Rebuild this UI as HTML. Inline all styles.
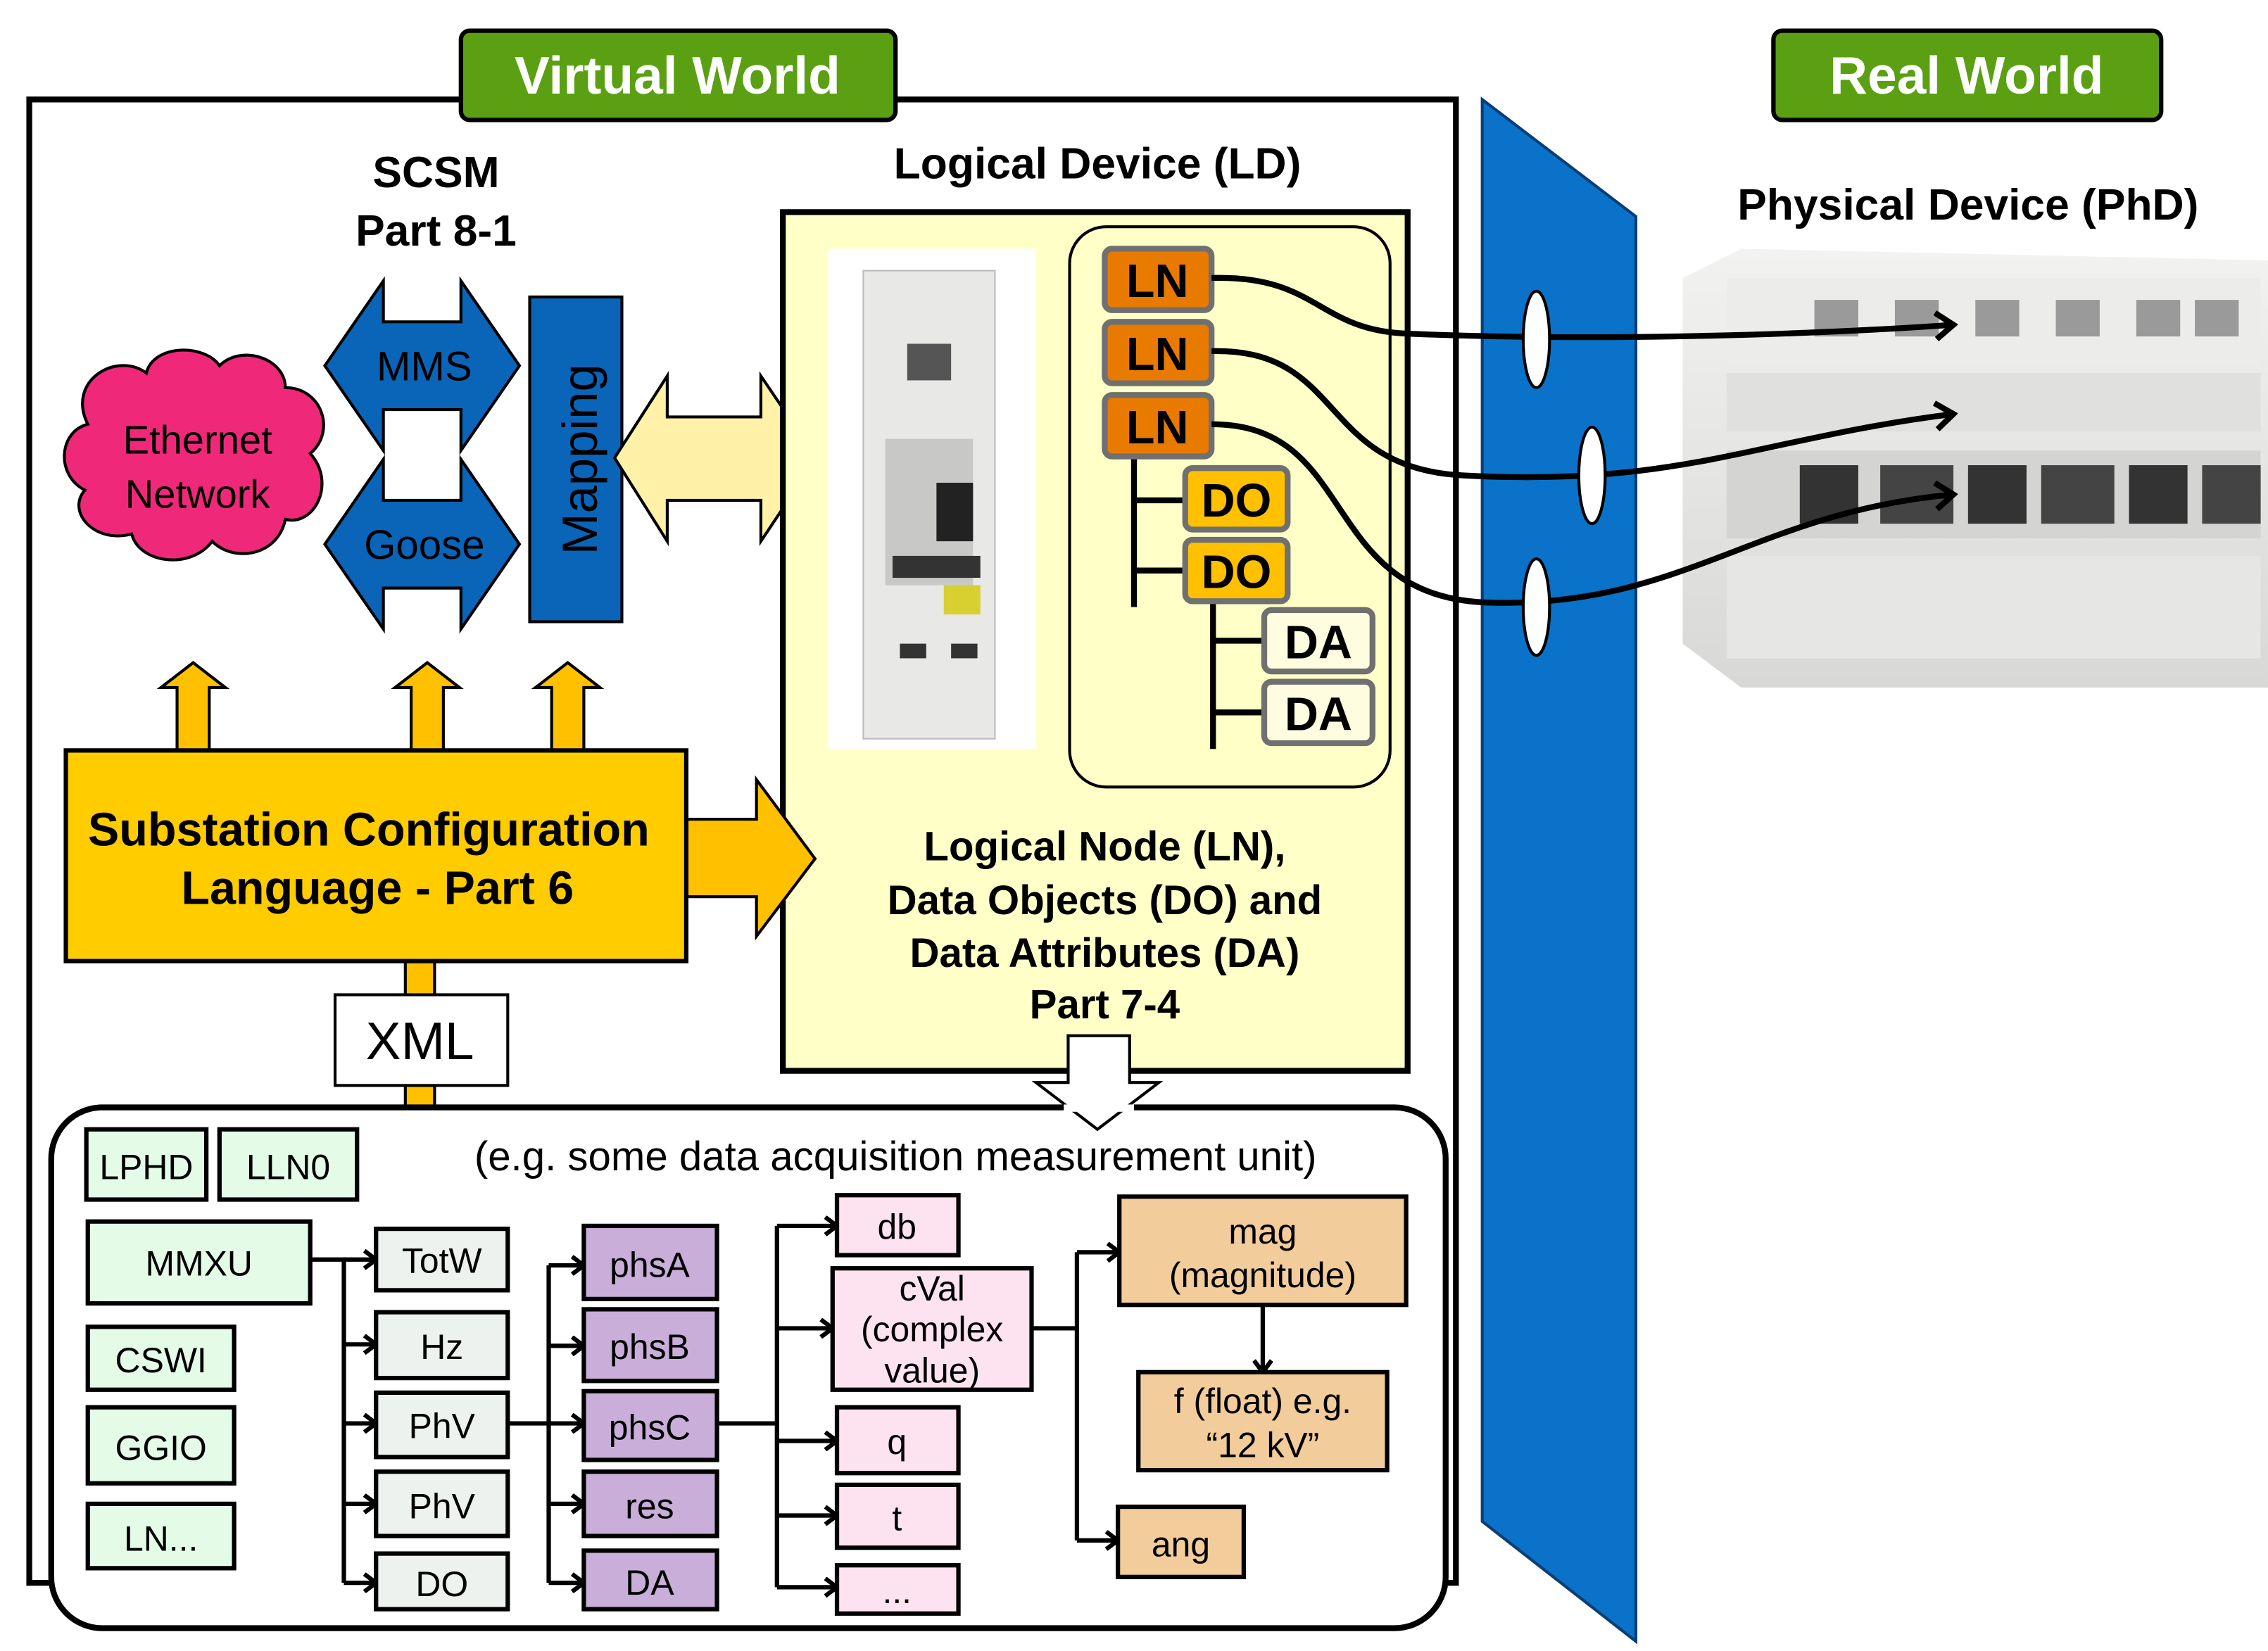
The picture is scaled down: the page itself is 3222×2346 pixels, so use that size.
<!DOCTYPE html>
<html><head><meta charset="utf-8"><style>
html,body{margin:0;padding:0;background:#fff}
svg{display:block}
text{font-family:"Liberation Sans",Arial,sans-serif}
</style></head><body>
<svg width="3222" height="2346" viewBox="0 0 1550 1128.6" xmlns="http://www.w3.org/2000/svg">
<defs>
<marker id="ch" markerWidth="12" markerHeight="14" refX="10" refY="7" orient="auto" markerUnits="userSpaceOnUse">
<polyline points="2,1 10,7 2,13" fill="none" stroke="#000" stroke-width="3"/>
</marker>
<marker id="chb" markerWidth="18" markerHeight="22" refX="15" refY="11" orient="auto" markerUnits="userSpaceOnUse">
<polyline points="3,2 15,11 3,20" fill="none" stroke="#000" stroke-width="4"/>
</marker>
<linearGradient id="gr" x1="0" y1="0" x2="0" y2="1"><stop offset="0" stop-color="#f2f2f0"/><stop offset="1" stop-color="#d8d8d6"/></linearGradient>
</defs>

<!-- virtual world outer box -->
<rect x="20" y="68" width="975" height="1014" fill="#fff" stroke="#000" stroke-width="4"/>

<!-- labels -->
<rect x="315" y="21" width="297" height="61" rx="6" fill="#5aa012" stroke="#000" stroke-width="3"/>
<text x="463" y="64" font-size="36" font-weight="bold" fill="#fff" text-anchor="middle">Virtual World</text>
<rect x="1212" y="21" width="265" height="61" rx="6" fill="#5aa012" stroke="#000" stroke-width="3"/>
<text x="1344" y="64" font-size="36" font-weight="bold" fill="#fff" text-anchor="middle">Real World</text>

<!-- blue panel -->
<polygon points="1013,68 1118,148 1118,1122 1013,1040" fill="#0a72c8" stroke="#0a3e78" stroke-width="2"/>

<!-- physical device -->
<text x="1345" y="150" font-size="30" font-weight="bold" text-anchor="middle">Physical Device (PhD)</text>
<g>
<polygon points="1150,190 1190,170 1550,178 1550,470 1190,470 1150,440" fill="url(#gr)"/>
<rect x="1180" y="190" width="365" height="60" fill="#ececea"/>
<rect x="1180" y="255" width="365" height="40" fill="#e0e0de"/>
<rect x="1180" y="308" width="365" height="60" fill="#d4d4d2"/>
<rect x="1230" y="318" width="40" height="40" fill="#333"/><rect x="1285" y="318" width="50" height="40" fill="#444"/>
<rect x="1345" y="318" width="40" height="40" fill="#333"/><rect x="1395" y="318" width="50" height="40" fill="#444"/>
<rect x="1455" y="318" width="40" height="40" fill="#333"/><rect x="1505" y="318" width="40" height="40" fill="#444"/>
<rect x="1240" y="205" width="30" height="25" fill="#9a9a9a"/><rect x="1295" y="205" width="30" height="25" fill="#9a9a9a"/>
<rect x="1350" y="205" width="30" height="25" fill="#9a9a9a"/><rect x="1405" y="205" width="30" height="25" fill="#9a9a9a"/>
<rect x="1460" y="205" width="30" height="25" fill="#9a9a9a"/><rect x="1500" y="205" width="30" height="25" fill="#9a9a9a"/>
<rect x="1180" y="380" width="365" height="70" fill="#e6e6e4"/>
</g>

<!-- SCSM -->
<text x="298" y="128" font-size="30" font-weight="bold" text-anchor="middle">SCSM</text>
<text x="298" y="168" font-size="30" font-weight="bold" text-anchor="middle">Part 8-1</text>

<!-- Ethernet cloud -->
<g fill="#f0287a" stroke="#000" stroke-width="2">
<path d="M60,290 C45,260 80,240 100,255 C105,235 140,235 150,250 C165,235 195,245 195,265 C220,265 230,295 212,310 C230,330 215,360 195,355 C190,380 160,385 145,370 C130,390 95,385 90,365 C65,372 45,350 58,335 C38,325 40,295 60,290 Z"/>
</g>
<text x="135" y="310" font-size="27" text-anchor="middle">Ethernet</text>
<text x="135" y="347" font-size="27" text-anchor="middle">Network</text>

<!-- MMS / Goose double arrows -->
<polygon points="222,250 262,192 262,220 315,220 315,192 355,250 315,308 315,280 262,280 262,308" fill="#0a64b8" stroke="#000" stroke-width="2"/>
<text x="290" y="260" font-size="28" text-anchor="middle">MMS</text>
<polygon points="222,372 262,314 262,342 315,342 315,314 355,372 315,430 315,402 262,402 262,430" fill="#0a64b8" stroke="#000" stroke-width="2"/>
<text x="290" y="382" font-size="28" text-anchor="middle">Goose</text>

<!-- Mapping -->
<rect x="362" y="203" width="63" height="222" fill="#0a64b8" stroke="#000" stroke-width="2"/>
<text transform="translate(408,314) rotate(-90)" font-size="34" text-anchor="middle">Mapping</text>

<!-- yellow double arrow -->
<polygon points="420,313 456,257 456,285 520,285 520,257 558,313 520,370 520,342 456,342 456,370" fill="#fff2a8" stroke="#000" stroke-width="2"/>

<!-- LD box -->
<text x="750" y="122" font-size="30" font-weight="bold" text-anchor="middle">Logical Device (LD)</text>
<rect x="535" y="145" width="427" height="587" fill="#ffffc8" stroke="#000" stroke-width="4"/>
<rect x="566" y="170" width="142" height="342" fill="#fff"/>
<g>
<rect x="590" y="185" width="90" height="320" fill="#e8e8e6" stroke="#bbb"/>
<rect x="620" y="235" width="30" height="25" fill="#555"/>
<rect x="605" y="300" width="60" height="100" fill="#c8c8c6"/>
<rect x="640" y="330" width="25" height="40" fill="#222"/>
<rect x="610" y="380" width="60" height="15" fill="#333"/>
<rect x="645" y="400" width="25" height="20" fill="#d8d030"/>
<rect x="615" y="440" width="18" height="10" fill="#333"/><rect x="650" y="440" width="18" height="10" fill="#333"/>
</g>
<rect x="731" y="155" width="219" height="383" rx="25" fill="#ffffc8" stroke="#000" stroke-width="2"/>

<!-- tree lines -->
<g stroke="#000" stroke-width="4">
<line x1="775" y1="312" x2="775" y2="415"/><line x1="775" y1="342" x2="812" y2="342"/><line x1="775" y1="390" x2="812" y2="390"/>
<line x1="829" y1="410" x2="829" y2="512"/><line x1="829" y1="438" x2="866" y2="438"/><line x1="829" y1="487" x2="866" y2="487"/>
</g>
<g stroke="#707070" stroke-width="4" font-size="32" font-weight="bold">
<rect x="755" y="170" width="73" height="42" rx="5" fill="#e87a00"/>
<rect x="755" y="220" width="73" height="42" rx="5" fill="#e87a00"/>
<rect x="755" y="270" width="73" height="42" rx="5" fill="#e87a00"/>
<rect x="810" y="320" width="70" height="42" rx="5" fill="#ffc000"/>
<rect x="810" y="369" width="70" height="42" rx="5" fill="#ffc000"/>
<rect x="864" y="417" width="74" height="42" rx="5" fill="#fffde0"/>
<rect x="864" y="466" width="74" height="42" rx="5" fill="#fffde0"/>
</g>
<g font-size="32" font-weight="bold" text-anchor="middle">
<text x="791" y="203">LN</text><text x="791" y="253">LN</text><text x="791" y="303">LN</text>
<text x="845" y="353">DO</text><text x="845" y="402">DO</text>
<text x="901" y="450">DA</text><text x="901" y="499">DA</text>
</g>
<g font-size="28" font-weight="bold" text-anchor="middle">
<text x="755" y="588">Logical Node (LN),</text>
<text x="755" y="625">Data Objects (DO) and</text>
<text x="755" y="661">Data Attributes (DA)</text>
<text x="755" y="696">Part 7-4</text>
</g>

<!-- curves LN -> physical -->
<g fill="none" stroke="#000" stroke-width="4">
<path d="M828,190 C900,188 900,225 960,228 C1100,234 1250,228 1335,222" marker-end="url(#chb)"/>
<path d="M828,240 C920,238 900,320 1000,325 C1150,333 1200,300 1335,283" marker-end="url(#chb)"/>
<path d="M828,290 C930,290 900,410 1020,412 C1150,415 1200,350 1335,338" marker-end="url(#chb)"/>
</g>
<g fill="#fff" stroke="#000" stroke-width="2">
<ellipse cx="1050" cy="232" rx="9" ry="33"/>
<ellipse cx="1088" cy="325" rx="9" ry="33"/>
<ellipse cx="1050" cy="415" rx="9" ry="33"/>
</g>

<!-- SCL box and arrows -->
<g fill="#ffc000" stroke="#000" stroke-width="2">
<polygon points="121,513 121,470 110,470 132,453 154,470 143,470 143,513"/>
<polygon points="281,513 281,470 270,470 292,453 314,470 303,470 303,513"/>
<polygon points="377,513 377,470 366,470 388,453 410,470 399,470 399,513"/>
<polygon points="460,560 517,560 517,533 557,587 517,640 517,613 460,613"/>
<rect x="277" y="648" width="20" height="34"/>
<polygon points="277,742 297,742 297,758 307,758 287,772 267,758 277,758"/>
</g>
<rect x="45" y="513" width="424" height="144" fill="#ffcc00" stroke="#000" stroke-width="3"/>
<text x="252" y="578" font-size="32" font-weight="bold" text-anchor="middle">Substation Configuration</text>
<text x="258" y="618" font-size="32" font-weight="bold" text-anchor="middle">Language - Part 6</text>
<rect x="229" y="680" width="118" height="62" fill="#fff" stroke="#000" stroke-width="2"/>
<text x="287" y="724" font-size="36" text-anchor="middle">XML</text>

<!-- bottom box -->
<rect x="35" y="757" width="953" height="356" rx="35" fill="#fff" stroke="#000" stroke-width="4"/>
<polygon points="730,708 772,708 772,740 792,740 750,772 708,740 730,740" fill="#fff" stroke="#000" stroke-width="2"/>
<rect x="727" y="755" width="48" height="5" fill="#fff"/>
<text x="612" y="800" font-size="28" text-anchor="middle">(e.g. some data acquisition measurement unit)</text>

<!-- connectors -->
<g fill="none" stroke="#000" stroke-width="3">
<polyline points="212,861 235,861 235,1082"/>
<line x1="235" y1="861" x2="257" y2="861" marker-end="url(#ch)"/>
<line x1="235" y1="919" x2="257" y2="919" marker-end="url(#ch)"/>
<line x1="235" y1="973" x2="257" y2="973" marker-end="url(#ch)"/>
<line x1="235" y1="1028" x2="257" y2="1028" marker-end="url(#ch)"/>
<line x1="235" y1="1082" x2="257" y2="1082" marker-end="url(#ch)"/>
<polyline points="347,973 375,973"/>
<line x1="375" y1="865" x2="375" y2="1082"/>
<line x1="375" y1="865" x2="399" y2="865" marker-end="url(#ch)"/>
<line x1="375" y1="920" x2="399" y2="920" marker-end="url(#ch)"/>
<line x1="375" y1="973" x2="399" y2="973" marker-end="url(#ch)"/>
<line x1="375" y1="1028" x2="399" y2="1028" marker-end="url(#ch)"/>
<line x1="375" y1="1082" x2="399" y2="1082" marker-end="url(#ch)"/>
<polyline points="490,973 531,973"/>
<line x1="531" y1="838" x2="531" y2="1085"/>
<line x1="531" y1="838" x2="572" y2="838" marker-end="url(#ch)"/>
<line x1="531" y1="908" x2="569" y2="908" marker-end="url(#ch)"/>
<line x1="531" y1="985" x2="572" y2="985" marker-end="url(#ch)"/>
<line x1="531" y1="1036" x2="572" y2="1036" marker-end="url(#ch)"/>
<line x1="531" y1="1085" x2="572" y2="1085" marker-end="url(#ch)"/>
<polyline points="705,908 736,908"/>
<line x1="736" y1="856" x2="736" y2="1053"/>
<line x1="736" y1="856" x2="765" y2="856" marker-end="url(#ch)"/>
<line x1="736" y1="1053" x2="764" y2="1053" marker-end="url(#ch)"/>
<line x1="863" y1="892" x2="863" y2="938" marker-end="url(#ch)"/>
</g>

<!-- boxes -->
<g stroke="#000" stroke-width="3">
<g fill="#e4fbe8">
<rect x="59" y="772" width="82" height="48"/><rect x="150" y="772" width="94" height="48"/>
<rect x="60" y="835" width="152" height="56"/><rect x="60" y="907" width="100" height="43"/>
<rect x="60" y="962" width="100" height="52"/><rect x="60" y="1028" width="100" height="44"/>
</g>
<g fill="#eef2ee">
<rect x="257" y="840" width="90" height="42"/><rect x="257" y="897" width="90" height="45"/>
<rect x="257" y="952" width="90" height="44"/><rect x="257" y="1006" width="90" height="44"/>
<rect x="257" y="1062" width="90" height="38"/>
</g>
<g fill="#c8aed8">
<rect x="399" y="838" width="91" height="50"/><rect x="399" y="895" width="91" height="49"/>
<rect x="399" y="951" width="91" height="47"/><rect x="399" y="1006" width="91" height="44"/>
<rect x="399" y="1060" width="91" height="40"/>
</g>
<g fill="#fde3ef">
<rect x="572" y="817" width="83" height="41"/><rect x="569" y="867" width="136" height="83"/>
<rect x="572" y="962" width="83" height="45"/><rect x="572" y="1015" width="83" height="43"/>
<rect x="572" y="1070" width="83" height="33"/>
</g>
<g fill="#f2cc9a">
<rect x="765" y="818" width="196" height="74"/><rect x="778" y="938" width="170" height="67"/>
<rect x="764" y="1030" width="86" height="48"/>
</g>
</g>
<g font-size="24" text-anchor="middle">
<text x="100" y="806">LPHD</text><text x="197" y="806">LLN0</text>
<text x="136" y="872">MMXU</text><text x="110" y="938">CSWI</text>
<text x="110" y="998">GGIO</text><text x="110" y="1060">LN...</text>
<text x="302" y="870">TotW</text><text x="302" y="929">Hz</text>
<text x="302" y="983">PhV</text><text x="302" y="1038">PhV</text><text x="302" y="1091">DO</text>
<text x="444" y="873">phsA</text><text x="444" y="929">phsB</text>
<text x="444" y="984">phsC</text><text x="444" y="1038">res</text><text x="444" y="1090">DA</text>
<text x="613" y="847">db</text>
<text x="637" y="889">cVal</text><text x="637" y="917">(complex</text><text x="637" y="945">value)</text>
<text x="613" y="994">q</text><text x="613" y="1046">t</text><text x="613" y="1096">...</text>
<text x="863" y="850">mag</text><text x="863" y="880">(magnitude)</text>
<text x="863" y="966">f (float) e.g.</text><text x="863" y="996">“12 kV”</text>
<text x="807" y="1064">ang</text>
</g>
</svg>
</body></html>
